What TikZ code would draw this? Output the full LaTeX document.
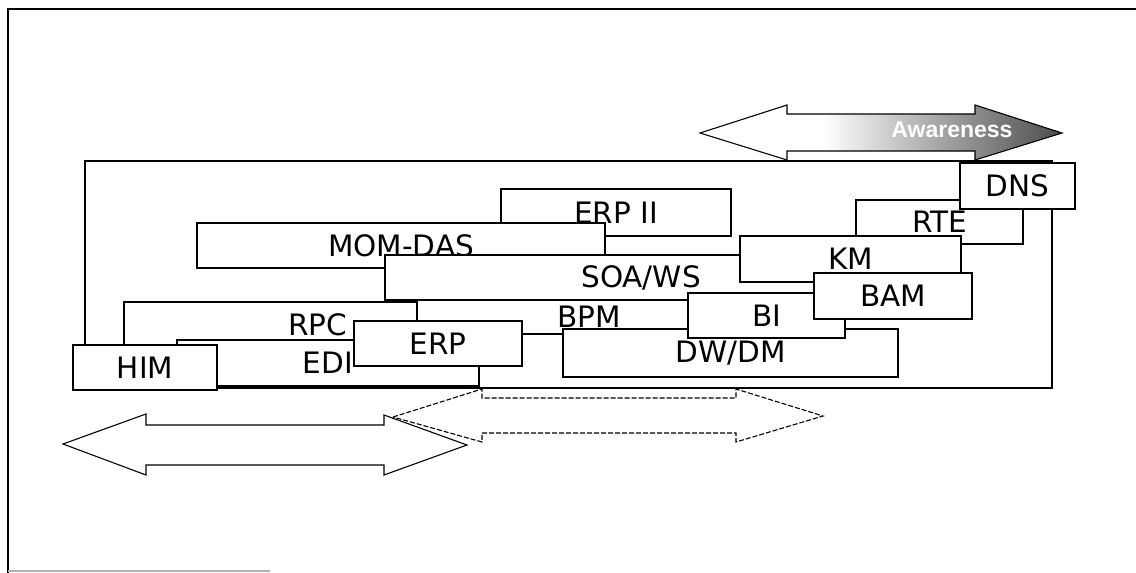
\documentclass[tikz,border=0pt]{standalone}
\usepackage{fontspec}
\setmainfont{DejaVu Sans}
\newfontfamily\awfont{Liberation Sans}
\pgfdeclarehorizontalshading{awareshade}{100bp}{color(0bp)=(white); color(42bp)=(white); color(58bp)=(black!35); color(75bp)=(black!70); color(100bp)=(black!70)}

\begin{document}
\begin{tikzpicture}[x=1pt, y=-1pt,
    blk/.style={draw=black, fill=white, line width=1.1pt, inner sep=0pt,
      font=\fontsize{29.5}{30}\selectfont},
    arr/.style={line width=1.1pt, line join=miter}]
  \useasboundingbox (0,0) rectangle (1136,573);
  % page frame
  \draw[line width=2pt] (8,573) -- (8,9) -- (1136,9);
  \draw[gray!60, line width=1.5pt] (8,571) -- (270,571);
  % container
  \draw[line width=1.1pt] (85,161) rectangle (1052,388);
  % awareness arrow
  \shadedraw[arr, shading=awareshade] (700,133) -- (787,105) -- (787,114) -- (975,114)
    -- (975,105) -- (1062,133) -- (975,160) -- (975,151) -- (787,151) -- (787,160) -- cycle;
  \node[font=\awfont\bfseries\fontsize{23}{24}\selectfont, text=white, anchor=base]
    (aware) at (952,137) {Awareness};
  % technology boxes, back to front
  \foreach \nm/\xa/\ya/\xb/\yb/\txt in {
    erpii/501/189/731/236/{ERP II}, momdas/197/223/605/268/{MOM-DAS},
    soa/385/255/897/300/{SOA/WS}, rte/856/200/1023/244/RTE,
    dns/960/163/1075/209/DNS, km/740/236/961/282/KM,
    rpc/124/302/511/348/RPC, bpm/417/300/761/334/BPM,
    dwdm/563/329/898/377/{DW/DM}, bi/688/293/845/338/BI,
    bam/814/273/972/319/BAM, edi/177/340/479/386/EDI,
    erp/354/321/522/366/ERP, him/73/345/217/390/HIM}
  {
    \node[blk, minimum width=\xb pt-\xa pt, minimum height=\yb pt-\ya pt]
      (\nm) at ({(\xa+\xb)/2},{(\ya+\yb)/2}) {\txt};
  }
  % lower arrows
  \draw[arr] (63,444) -- (146,414) -- (146,425) -- (384,425) -- (384,415) -- (467,445)
    -- (384,475) -- (384,465) -- (146,465) -- (146,475) -- cycle;
  \draw[arr, dash pattern=on 5pt off 2pt] (393,417) -- (482,389) -- (482,398) -- (736,398)
    -- (736,389) -- (823,416) -- (736,442) -- (736,433) -- (482,433) -- (482,442) -- cycle;
\end{tikzpicture}
\end{document}
